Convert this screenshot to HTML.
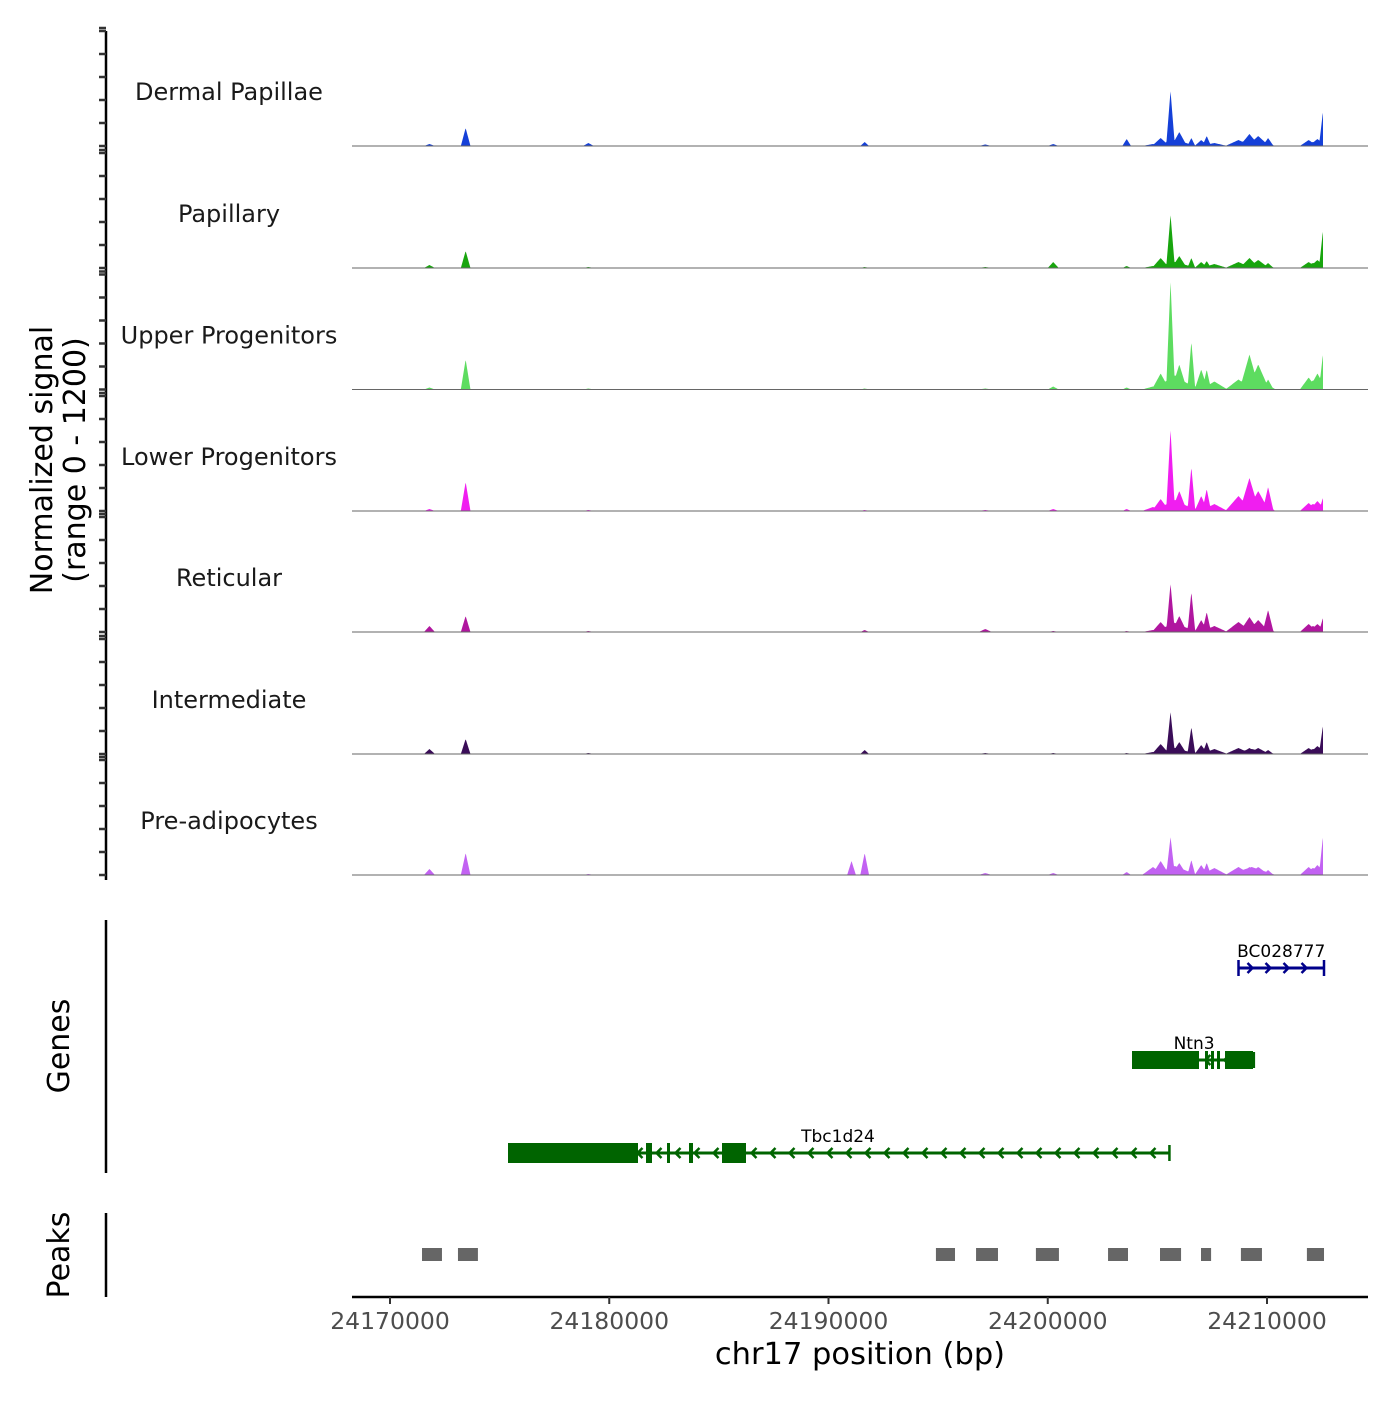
<!DOCTYPE html>
<html><head><meta charset="utf-8"><style>
body{margin:0;background:#fff;}
svg text{font-family:"DejaVu Sans","Liberation Sans",sans-serif;}
</style></head><body>
<svg id="chart" width="1400" height="1400" viewBox="0 0 1400 1400" xmlns="http://www.w3.org/2000/svg">
<g id="tracks"></g>
<g id="leftaxis"></g>
<text x="52" y="460" font-size="30" fill="#000" text-anchor="middle" transform="rotate(-90 52 460)">Normalized signal</text>
<text x="85" y="460" font-size="30" fill="#000" text-anchor="middle" transform="rotate(-90 85 460)">(range 0 - 1200)</text>
<line x1="106" y1="920" x2="106" y2="1173" stroke="#000" stroke-width="2.5"/>
<text x="69" y="1046" font-size="30" text-anchor="middle" transform="rotate(-90 69 1046)">Genes</text>
<line x1="106" y1="1213" x2="106" y2="1297" stroke="#000" stroke-width="2.5"/>
<text x="69" y="1255" font-size="30" text-anchor="middle" transform="rotate(-90 69 1255)">Peaks</text>
<g id="genes"></g>
<g id="peaks"></g>
<g id="xaxis"></g>
<text x="860" y="1364" font-size="30.5" text-anchor="middle" fill="#000">chr17 position (bp)</text>
</svg>
<script>
const trackNames = ["Dermal Papillae","Papillary","Upper Progenitors","Lower Progenitors","Reticular","Intermediate","Pre-adipocytes"];
const trackColors = ["#1540d8","#18a50e","#5ddc60","#f01ef0","#b0169f","#3a0d58","#c262f2"];
const peakPos = [24171800,24173450,24179050,24191050,24191650,24197150,24200250,24203600,24205150,24205600,24206000,24206550,24207000,24207250,24208700,24209200,24209600,24210050,24211900,24212300,24212550,24207600,24204800,24205800,24209300,24212100];
const peakWidth=[250,220,250,200,200,300,250,200,400,200,350,180,300,200,600,450,500,250,400,400,180,600,500,1000,1100,600];
const peakVals = [
 [ 20,180,30,0,40,15,20,70,80,550,140,80,60,100,60,120,100,80,60,70,340,30,20,60,70,40],
 [ 30,170,10,0,10,10,60,20,100,530,120,100,60,70,60,100,80,50,60,80,370,40,20,60,60,50],
 [ 20,300,10,0,10,10,30,20,160,1080,250,480,200,200,100,350,250,100,120,160,350,80,30,140,140,90],
 [ 20,290,10,0,10,10,20,20,120,810,200,440,150,220,150,330,200,240,80,100,130,70,40,110,130,70],
 [ 60,160,10,0,20,30,10,10,100,480,160,400,120,200,100,150,120,220,80,80,140,60,20,90,90,60],
 [ 50,150,10,0,40,10,10,10,100,420,120,270,90,120,60,60,60,40,60,80,280,50,20,60,50,50],
 [ 60,220,10,140,220,20,20,30,140,380,120,150,100,120,80,80,80,50,80,100,380,70,80,90,80,70]
];
const xTicks=[24170000,24180000,24190000,24200000,24210000];
const geneNames=["BC028777","Ntn3","Tbc1d24"];
const geneStart=[24208700,24203950,24175450];
const geneEnd=[24212600,24209400,24205550];
const peakStart=[24171460,24173100,24194900,24196730,24199460,24202750,24205120,24206990,24208810,24211820];
const peakEnd=[24172370,24174010,24195770,24197730,24200510,24203660,24206080,24207450,24209770,24212600];

const NS="http://www.w3.org/2000/svg";
const X0=24170000, PX0=390, SC=0.021925;
const xs=bp=>PX0+(bp-X0)*SC;
const bpOf=x=>X0+(x-PX0)/SC;
const base=[146,268,389.5,511,632,754,875];
const ys=(v,t)=>base[t]-v*0.1;
function mk(tag,attrs,parent){const e=document.createElementNS(NS,tag);for(const k in attrs)e.setAttribute(k,attrs[k]);parent.appendChild(e);return e;}
const T=document.getElementById('tracks');
trackNames.forEach((nm,t)=>{
  let d=`M352,${base[t]}`;
  for(let x=397;x<=1323;x+=0.5){
    const bp=bpOf(x);let v=0;
    peakPos.forEach((p,i)=>{const w=peakWidth[i];const a=Math.max(0,1-Math.abs(bp-p)/w);v=Math.max(v,peakVals[t][i]*a);});
    d+=`L${x.toFixed(1)},${ys(v,t).toFixed(2)}`;
  }
  d+=`L1323,${base[t]}Z`;
  const p=mk('path',{d:d,fill:trackColors[t]},T);
  
  
  const l=mk('line',{x1:352,x2:1368,y1:base[t],y2:base[t],stroke:'#666',"stroke-width":1},T);
  
  
  const tx=mk('text',{x:229,y:base[t]-46,"font-size":24,fill:'#1a1a1a',"text-anchor":'middle'},T);
  tx.textContent=nm;
  
  
});
const L=document.getElementById('leftaxis');
mk('line',{x1:106,x2:106,y1:31,y2:880,stroke:'#000',"stroke-width":2.5},L);
for(let t=0;t<7;t++){for(let k=0;k<=5;k++){const y=base[t]-k*23;mk('line',{x1:99,x2:106,y1:y,y2:y,stroke:'#333',"stroke-width":2.5},L);}
 mk('line',{x1:99,x2:106,y1:base[t]-118,y2:base[t]-118,stroke:'#333',"stroke-width":2.5},L);}
const G=document.getElementById('genes');
const gc=["#00008b","#006400","#006400"], gy=[968,1060,1153];
geneNames.forEach((g,i)=>{
  const x1=xs(geneStart[i]),x2=xs(geneEnd[i]);
  const l=mk('line',{x1:x1,x2:x2,y1:gy[i],y2:gy[i],stroke:gc[i],"stroke-width":3},G);
  
  
  const tx=mk('text',{x:(i==2?838:(x1+x2)/2),y:gy[i]-11,"font-size":17,"text-anchor":'middle',fill:'#000'},G);
  tx.textContent=g;
  
  
  const dir=i==0?1:-1;
  for(let x=x1+14;x<x2-4;x+=(i==0?18:19)){mk('path',{d:`M${x-dir*5},${gy[i]-5}L${x},${gy[i]}L${x-dir*5},${gy[i]+5}`,fill:'none',stroke:gc[i],"stroke-width":2.5},G);}
  mk('line',{x1:x1,x2:x1,y1:gy[i]-8,y2:gy[i]+8,stroke:gc[i],"stroke-width":2.5},G);
  mk('line',{x1:x2,x2:x2,y1:gy[i]-8,y2:gy[i]+8,stroke:gc[i],"stroke-width":2.5},G);
});
[[508,638],[646,652],[667,670],[689,693],[722,746]].forEach(e=>mk('rect',{x:e[0],y:1143,width:e[1]-e[0],height:20,fill:'#006400'},G));
[[1132,1199],[1205,1208],[1211,1214],[1217,1220],[1225,1253]].forEach(e=>mk('rect',{x:e[0],y:1051,width:e[1]-e[0],height:18,fill:'#006400'},G));
const P=document.getElementById('peaks');
peakStart.forEach((s,i)=>{const r=mk('rect',{x:xs(s),y:1248,width:xs(peakEnd[i])-xs(s),height:13,fill:'#666'},P);
  
  });
const XA=document.getElementById('xaxis');
mk('line',{x1:352,x2:1368,y1:1297,y2:1297,stroke:'#000',"stroke-width":2.5},XA);
xTicks.forEach(t=>{const x=xs(t);mk('line',{x1:x,x2:x,y1:1297,y2:1304,stroke:'#333',"stroke-width":2},XA);
  const tx=mk('text',{x:x,y:1329,"font-size":23.5,"text-anchor":'middle',fill:'#4d4d4d'},XA);tx.textContent=t;
  
  });
</script>
</body></html>
